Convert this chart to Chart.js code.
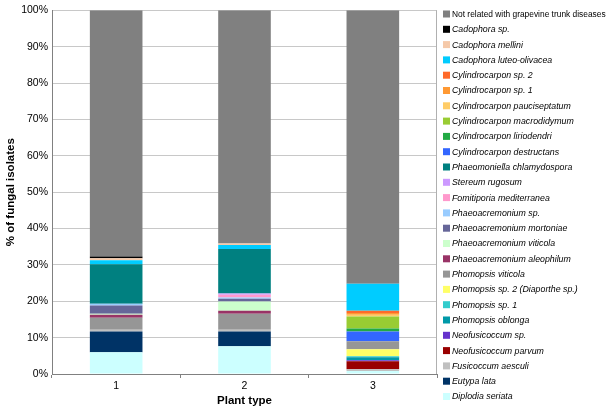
<!DOCTYPE html>
<html>
<head>
<meta charset="utf-8">
<script src="https://cdn.jsdelivr.net/npm/chart.js@4/dist/chart.umd.min.js"></script>
<style>
  html, body { margin: 0; padding: 0; background: #fff; }
  #wrap { width: 609px; height: 411px; position: relative; }
</style>
</head>
<body>
<div id="wrap"><canvas id="fungiChart"></canvas></div>
<script>
// plant types on the x axis
const plantTypes = ["1", "2", "3"];

// species, bottom of the stack first
const speciesNames = [
    "Diplodia seriata", "Eutypa lata", "Fusicoccum aesculi", "Neofusicoccum parvum",
    "Neofusicoccum sp.", "Phomopsis oblonga", "Phomopsis sp. 1", "Phomopsis sp. 2 (Diaporthe sp.)",
    "Phomopsis viticola", "Phaeoacremonium aleophilum", "Phaeoacremonium viticola",
    "Phaeoacremonium mortoniae", "Phaeoacremonium sp.", "Fomitiporia mediterranea",
    "Stereum rugosum", "Phaeomoniella chlamydospora", "Cylindrocarpon destructans",
    "Cylindrocarpon liriodendri", "Cylindrocarpon macrodidymum", "Cylindrocarpon pauciseptatum",
    "Cylindrocarpon sp. 1", "Cylindrocarpon sp. 2", "Cadophora luteo-olivacea",
    "Cadophora mellini", "Cadophora sp.", "Not related with grapevine trunk diseases"
];

// % of isolates per species, same order as speciesNames
const plant1 = [6.0, 5.7, 0.5, 0, 0, 0, 0, 0, 3.3, 0.8, 0.3, 2.2, 0.5, 0, 0, 10.9, 0, 0, 0, 0, 0, 0, 1.1, 0.5, 0.5, 67.7];
const plant2 = [7.6, 4.1, 0.5, 0, 0, 0, 0, 0, 4.4, 0.8, 2.5, 0.8, 0.3, 0.8, 0.3, 12.3, 0, 0, 0, 0, 0, 0, 1.1, 0.4, 0, 64.1];
const plant3 = [0.8, 0, 0.5, 2.2, 0.3, 0.8, 0.3, 1.9, 2.2, 0, 0, 0, 0, 0, 0, 0, 2.7, 0.8, 3.3, 0.5, 0.5, 0.6, 7.4, 0, 0, 75.2];

const yTicks = [0, 10, 20, 30, 40, 50, 60, 70, 80, 90, 100];

const colors = [
    "#ccffff", "#003366", "#c0c0c0", "#990000",
    "#6633cc", "#0099a8", "#33cccc", "#ffff66",
    "#969696", "#993366", "#ccffcc",
    "#666699", "#99ccff", "#ff99cc",
    "#cc99ff", "#008080", "#3366ff",
    "#22aa44", "#99cc33", "#ffcc66",
    "#ff9933", "#ff6a2a", "#00ccff",
    "#f5c9a9", "#000000", "#808080"
];

const datasets = speciesNames.map((name, i) => ({
    label: name,
    data: [plant1[i], plant2[i], plant3[i]],
    backgroundColor: colors[i],
    borderWidth: 0,
    barPercentage: 0.41,
    categoryPercentage: 1.0
}));

// legend drawn by hand so species names can be italic
const sideLegend = {
    id: "sideLegend",
    afterDraw(chart) {
        const ctx = chart.ctx;
        const area = chart.chartArea;
        ctx.save();
        // right edge of the plot area
        ctx.strokeStyle = "#b0b0b0";
        ctx.lineWidth = 1;
        ctx.beginPath();
        ctx.moveTo(Math.round(area.right) - 0.5, area.top);
        ctx.lineTo(Math.round(area.right) - 0.5, area.bottom);
        ctx.stroke();

        const items = chart.data.datasets.slice().reverse();
        ctx.textBaseline = "middle";
        items.forEach((ds, i) => {
            const y = 14 + i * 15.3;
            ctx.fillStyle = ds.backgroundColor;
            ctx.fillRect(443, y - 3.5, 7, 7);
            const plain = ds.label.startsWith("Not related");
            ctx.font = (plain ? "8.4px" : "italic 8.8px") + " 'Liberation Sans', Arial, sans-serif";
            ctx.fillStyle = "#000";
            ctx.fillText(ds.label, 452, y + 0.5);
        });
        ctx.restore();
    }
};

new Chart(document.getElementById("fungiChart"), {
    type: "bar",
    data: { labels: plantTypes, datasets: datasets },
    options: {
        responsive: true,
        maintainAspectRatio: false,
        animation: false,
        layout: { padding: { top: 7, right: 172, left: 0, bottom: 0 } },
        plugins: {
            legend: { display: false },
            tooltip: { enabled: false }
        },
        scales: {
            x: {
                stacked: true,
                afterFit: (scale) => { scale.height = 37; },
                grid: { display: true, drawOnChartArea: false, offset: true, tickLength: 4, color: "#808080" },
                border: { color: "#808080", width: 1 },
                ticks: { color: "#000", font: { family: "'Liberation Sans', Arial", size: 10.5 }, padding: 2 },
                title: { display: true, text: "Plant type", color: "#000", font: { family: "'Liberation Sans', Arial", size: 11.5, weight: "bold" }, padding: { top: 0, bottom: 3 } }
            },
            y: {
                stacked: true,
                min: 0,
                max: 100,
                afterFit: (scale) => { scale.width = 52; },
                afterBuildTicks: (scale) => { scale.ticks = yTicks.map(v => ({ value: v })); },
                grid: { color: "#c8c8c8", drawTicks: false },
                border: { color: "#808080" },
                ticks: {
                    color: "#000",
                    padding: 4,
                    font: { family: "'Liberation Sans', Arial", size: 10.5 },
                    callback: (v) => v + "%"
                },
                title: { display: true, text: "% of fungal isolates", color: "#000", font: { family: "'Liberation Sans', Arial", size: 11.5, weight: "bold" }, padding: { top: 4, bottom: 0 } }
            }
        }
    },
    plugins: [sideLegend]
});
</script>
</body>
</html>
